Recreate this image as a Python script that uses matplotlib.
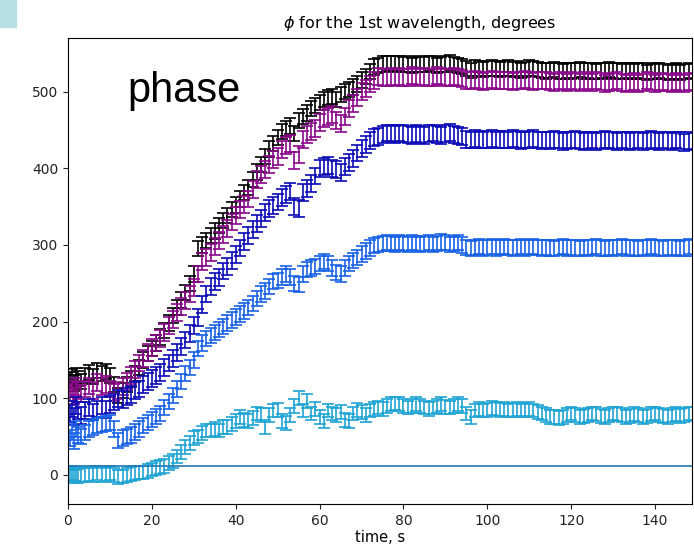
import matplotlib
matplotlib.use('Agg')
import matplotlib.pyplot as plt
from matplotlib.patches import Rectangle

# Data
# dense sampling for the first 3 s, then one point per second
time = [0.5, 1.0, 1.5, 2.0, 2.5, 3.0] + list(range(4, 150))

phi_black = [124, 128, 120, 130, 126, 122,
             130, 134, 128, 136, 132, 135, 130, 118, 104, 110,
             118, 125, 132, 140, 150, 158, 165, 172, 180, 188,
             198, 208, 218, 228, 238, 250, 262, 295, 300, 306,
             312, 318, 325, 332, 338, 346, 352, 360, 368, 375,
             385, 395, 405, 415, 425, 432, 440, 448, 452, 455,
             445, 462, 468, 472, 478, 482, 486, 490, 492, 494,
             490, 496, 500, 503, 506, 510, 515, 520, 526, 532,
             534, 536, 537, 537, 536, 537, 535, 536, 534, 535,
             536, 535, 537, 536, 534, 535, 536, 538, 535, 534,
             533, 530, 528, 531, 530, 529, 530, 531, 530, 529,
             530, 531, 529, 530, 528, 529, 531, 530, 529, 528,
             527, 528, 529, 527, 526, 528, 527, 528, 529, 527,
             528, 527, 526, 528, 527, 529, 528, 527, 526, 528,
             527, 526, 528, 527, 525, 526, 527, 528, 526, 525,
             526, 527, 525, 526, 528, 526]

phi_purple = [108, 112, 104, 115, 110, 106,
              112, 116, 110, 120, 115, 118, 112, 108, 110, 115,
              122, 130, 138, 146, 152, 160, 166, 172, 178, 186,
              195, 203, 212, 220, 228, 236, 244, 262, 278, 284,
              290, 298, 306, 314, 322, 330, 338, 346, 353, 360,
              372, 385, 392, 398, 405, 412, 415, 425, 430, 432,
              410, 418, 438, 444, 448, 452, 460, 465, 468, 470,
              462, 458, 468, 478, 484, 492, 500, 504, 510, 515,
              520, 519, 518, 520, 519, 520, 518, 519, 521, 520,
              519, 520, 518, 519, 521, 520, 518, 519, 520, 518,
              517, 515, 514, 516, 515, 513, 514, 516, 515, 514,
              515, 514, 513, 515, 514, 516, 515, 513, 514, 515,
              514, 513, 512, 514, 513, 512, 514, 513, 512, 514,
              513, 512, 514, 513, 511, 512, 513, 514, 512, 511,
              512, 513, 511, 512, 514, 513, 511, 512, 513, 512,
              511, 513, 512, 511, 513, 512]

phi_darkblue = [80, 86, 76, 90, 84, 78,
                84, 88, 82, 86, 90, 85, 92, 95, 100, 98,
                102, 105, 110, 112, 118, 122, 126, 130, 134, 140,
                146, 152, 160, 168, 176, 185, 195, 205, 222, 236,
                246, 252, 258, 266, 272, 280, 288, 296, 304, 312,
                320, 328, 335, 342, 348, 352, 356, 362, 366, 370,
                350, 348, 368, 374, 380, 390, 400, 402, 404, 400,
                398, 394, 402, 408, 413, 420, 426, 431, 436, 440,
                442, 444, 446, 445, 444, 446, 445, 444, 443, 445,
                444, 443, 445, 446, 444, 443, 445, 447, 444, 443,
                441, 438, 437, 439, 438, 437, 438, 439, 437, 438,
                438, 437, 439, 438, 436, 437, 438, 439, 437, 436,
                437, 436, 438, 437, 435, 436, 437, 438, 436, 435,
                436, 437, 435, 436, 438, 437, 436, 435, 437, 436,
                435, 436, 437, 435, 436, 438, 436, 435, 437, 436,
                435, 437, 436, 434, 436, 435]

phi_blue = [48, 56, 44, 60, 52, 50,
            55, 60, 62, 64, 66, 67, 68, 60, 45, 48,
            50, 52, 56, 60, 64, 68, 72, 76, 80, 88,
            96, 104, 112, 122, 132, 140, 150, 165, 172, 178,
            182, 186, 190, 194, 198, 202, 206, 210, 214, 218,
            224, 230, 236, 240, 246, 252, 254, 258, 262, 258,
            250, 248, 262, 268, 270, 272, 276, 278, 276, 270,
            264, 262, 270, 276, 280, 284, 288, 292, 296, 299,
            301, 302, 303, 302, 301, 303, 302, 301, 303, 302,
            301, 302, 303, 301, 302, 304, 303, 301, 302, 303,
            300, 297, 295, 297, 298, 296, 297, 298, 296, 297,
            298, 297, 296, 297, 298, 296, 297, 298, 297, 296,
            297, 296, 295, 297, 298, 296, 297, 296, 295, 297,
            296, 297, 298, 296, 295, 297, 296, 297, 298, 296,
            297, 296, 295, 297, 296, 298, 297, 296, 295, 297,
            296, 297, 295, 296, 298, 296]

phi_cyan = [0, 2, -2, 1, -1, 0,
            0, 1, 0, 2, 0, 1, 2, 0, -3, -2,
            0, 1, 2, 3, 3, 5, 7, 9, 10, 12,
            15, 18, 24, 30, 36, 42, 48, 50, 55, 58,
            58, 60, 58, 62, 62, 66, 70, 75, 72, 70,
            74, 80, 78, 62, 78, 84, 85, 70, 68, 78,
            90, 100, 84, 96, 80, 86, 76, 70, 84, 80,
            78, 82, 72, 70, 80, 85, 82, 78, 84, 86,
            88, 86, 90, 92, 93, 92, 90, 88, 90, 92,
            90, 88, 86, 88, 90, 92, 89, 88, 90, 92,
            90, 80, 76, 84, 86, 84, 85, 87, 86, 85,
            86, 84, 85, 86, 84, 85, 86, 84, 82, 80,
            78, 76, 75, 74, 76, 78, 80, 78, 76, 77,
            78, 80, 79, 77, 76, 78, 80, 79, 78, 76,
            77, 79, 78, 76, 77, 79, 80, 78, 77, 76,
            78, 79, 77, 78, 80, 79]

series = [
    (phi_black, 10, 'black'),
    (phi_purple, 11, '#8b068b'),
    (phi_darkblue, 11, '#0a0ab8'),
    (phi_blue, 10, '#1662e6'),
    (phi_cyan, 9, '#1ea4d4'),
]

reference_level = 11

# Plot
fig = plt.figure(figsize=(6.94, 5.55), dpi=100)
ax = fig.add_axes([68 / 694, 51 / 555, 624 / 694, 466 / 555])

for values, err, color in series:
    ax.errorbar(time, values, yerr=err, fmt='none', ecolor=color,
                elinewidth=1.2, capsize=4, capthick=1.2)

ax.axhline(reference_level, color='#1f77b4', linewidth=1.2)

ax.set_xlim(0, 148.8)
ax.set_ylim(-38, 570)
ax.set_xticks([0, 20, 40, 60, 80, 100, 120, 140])
ax.set_yticks([0, 100, 200, 300, 400, 500])
ax.tick_params(labelsize=10, colors='#222222')
ax.set_xlabel('time, s', fontsize=10.5, labelpad=2)
ax.set_title(r'$\phi$ for the 1st wavelength, degrees', fontsize=11.5,
             pad=7, x=0.564)

# slide decorations
fig.patches.append(Rectangle((0, 1 - 27 / 555), 16 / 694, 27 / 555,
                             transform=fig.transFigure, color='#b4dfe3'))
fig.text(127 / 694, 1 - 102 / 555, 'phase', fontsize=30,
         family='Liberation Sans', va='baseline')

fig.savefig('out.png', dpi=100)
